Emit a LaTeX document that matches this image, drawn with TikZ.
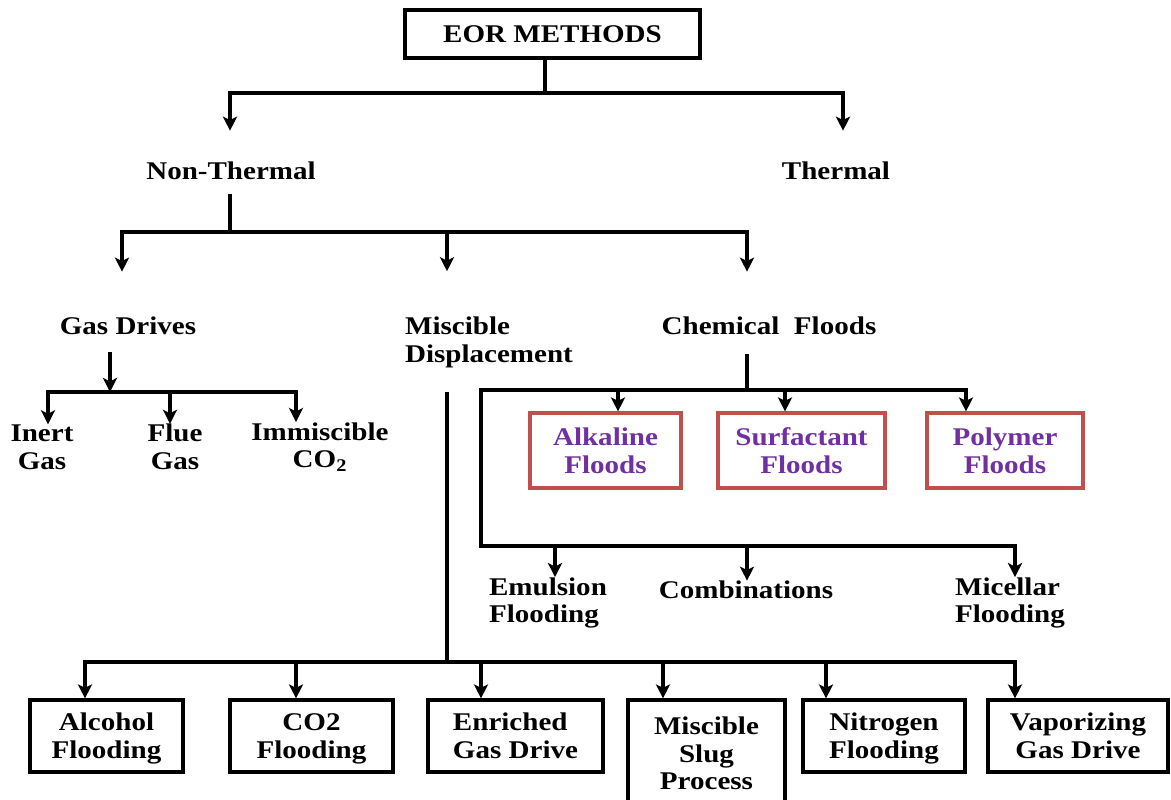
\documentclass[tikz,border=0pt]{standalone}
\usepackage{fontspec}
\setmainfont{Liberation Serif}[FakeStretch=1.14]
\usetikzlibrary{arrows.meta}
\definecolor{boxred}{RGB}{192,80,77}
\definecolor{txtpurple}{RGB}{112,48,160}
\begin{document}
\begin{tikzpicture}[x=0.02cm,y=-0.02cm,
  every node/.style={font=\bfseries\fontsize{14.5}{15.8}\selectfont, inner sep=0pt, align=center},
  conn/.style={line width=1.8pt, line cap=rect},
  arr/.style={line width=1.8pt, -{Stealth[length=8pt,width=8pt,inset=2pt]}},
  box/.style={draw, line width=1.8pt, minimum height=1.44cm, text depth=-2pt},
  rbox/.style={draw=boxred, line width=1.8pt, text=txtpurple, minimum height=1.5cm}]
\useasboundingbox (0,0) rectangle (1171,799);
\clip (0,0) rectangle (1171,799);
% nodes
\node[draw, line width=1.8pt, minimum width=5.9cm, minimum height=0.96cm] (eor) at (552.5,34) {EOR METHODS};
\node (nt) at (231,171) {Non-Thermal};
\node (th) at (836,171) {Thermal};
\node (gd) at (128,326) {Gas Drives};
\node[align=left] (md) at (489,342) {Miscible\\Displacement};
\node (cf) at (769,326) {Chemical\ \ Floods};
\node (ig) at (42,447) {Inert\\Gas};
\node (fg) at (175,447) {Flue\\Gas};
\node (ic) at (320,447) {Immiscible\\CO\textsubscript{2}};
\node[rbox, minimum width=3.02cm] (al) at (605.5,450.5) {Alkaline\\Floods};
\node[rbox, minimum width=3.34cm] (sf) at (801.5,450.5) {Surfactant\\Floods};
\node[rbox, minimum width=3.12cm] (pf) at (1005,450.5) {Polymer\\Floods};
\node[align=left] (em) at (548,603) {Emulsion\\Flooding};
\node (cb) at (746,590) {Combinations};
\node[align=left] (mf) at (1010,603) {Micellar\\Flooding};
\node[box, minimum width=3.06cm] (ah) at (106.5,736) {Alcohol\\Flooding};
\node[box, minimum width=3.26cm] (co) at (311.5,736) {CO2\\Flooding};
\node[box, minimum width=3.5cm, align=left] (eg) at (515.5,736) {Enriched\\Gas Drive};
\node[box, minimum width=3.14cm, minimum height=2.2cm, text depth=2pt] (ms) at (706.5,755) {Miscible\\Slug\\Process};
\node[box, minimum width=3.24cm] (ni) at (884,736) {Nitrogen\\Flooding};
\node[box, minimum width=3.6cm] (vg) at (1078,736) {Vaporizing\\Gas Drive};
% level 1
\coordinate (j0) at (545,93);
\coordinate (j0l) at (230,93);
\coordinate (j0r) at (843,93);
\draw[conn] (eor.south -| j0) -- (j0);
\draw[conn] (j0l) -- (j0r);
\draw[arr, shorten >=0.62cm] (j0l) -- (j0l |- nt.north);
\draw[arr, shorten >=0.62cm] (j0r) -- (j0r |- th.north);
% level 2
\coordinate (j1) at (230,232);
\coordinate (j1l) at (122,232);
\coordinate (j1m) at (447,232);
\coordinate (j1r) at (747,232);
\draw[conn, shorten <=0.31cm] (nt.south -| j1) -- (j1);
\draw[conn] (j1l) -- (j1r);
\draw[arr, shorten >=0.9cm] (j1l) -- (j1l |- gd.north);
\draw[arr, shorten >=0.9cm] (j1m) -- (j1m |- md.north);
\draw[arr, shorten >=0.9cm] (j1r) -- (j1r |- cf.north);
% gas drives
\coordinate (gj) at (110,392);
\coordinate (gjl) at (48,392);
\coordinate (gjm) at (170,392);
\coordinate (gjr) at (296,392);
\draw[arr, shorten <=0.34cm] (gj |- gd.south) -- (gj);
\draw[conn] (gjl) -- (gjr);
\draw[arr] (gjl) -- (gjl |- ig.north);
\draw[arr] (gjm) -- (gjm |- fg.north);
\draw[arr] (gjr) -- (gjr |- ic.north);
% miscible displacement
\coordinate (mj) at (447,662);
\coordinate (m1) at (85,662);
\coordinate (m2) at (296,662);
\coordinate (m3) at (481,662);
\coordinate (m4) at (663,662);
\coordinate (m5) at (826,662);
\coordinate (m6) at (1015,662);
\draw[conn, shorten <=0.52cm] (mj |- md.south) -- (mj);
\draw[conn] (m1) -- (m6);
\draw[arr] (m1) -- (m1 |- ah.north);
\draw[arr] (m2) -- (m2 |- co.north);
\draw[arr] (m3) -- (m3 |- eg.north);
\draw[arr] (m4) -- (m4 |- ms.north);
\draw[arr] (m5) -- (m5 |- ni.north);
\draw[arr] (m6) -- (m6 |- vg.north);
% chemical floods
\coordinate (cj) at (747,390);
\coordinate (cjl) at (481,390);
\coordinate (c1) at (618,390);
\coordinate (c2) at (785,390);
\coordinate (cjr) at (966,390);
\draw[conn, shorten <=0.4cm] (cj |- cf.south) -- (cj);
\draw[conn] (cjl) -- (cjr);
\draw[arr] (c1) -- (c1 |- al.north);
\draw[arr] (c2) -- (c2 |- sf.north);
\draw[arr] (cjr) -- (cjr |- pf.north);
\coordinate (ej) at (481,546);
\coordinate (e1) at (555,546);
\coordinate (e2) at (747,546);
\coordinate (ejr) at (1015,546);
\draw[conn] (cjl) -- (ej) -- (ejr);
\draw[arr] (e1) -- (e1 |- em.north);
\draw[arr] (e2) -- (e2 |- cb.north);
\draw[arr] (ejr) -- (ejr |- mf.north);
\end{tikzpicture}
\end{document}
